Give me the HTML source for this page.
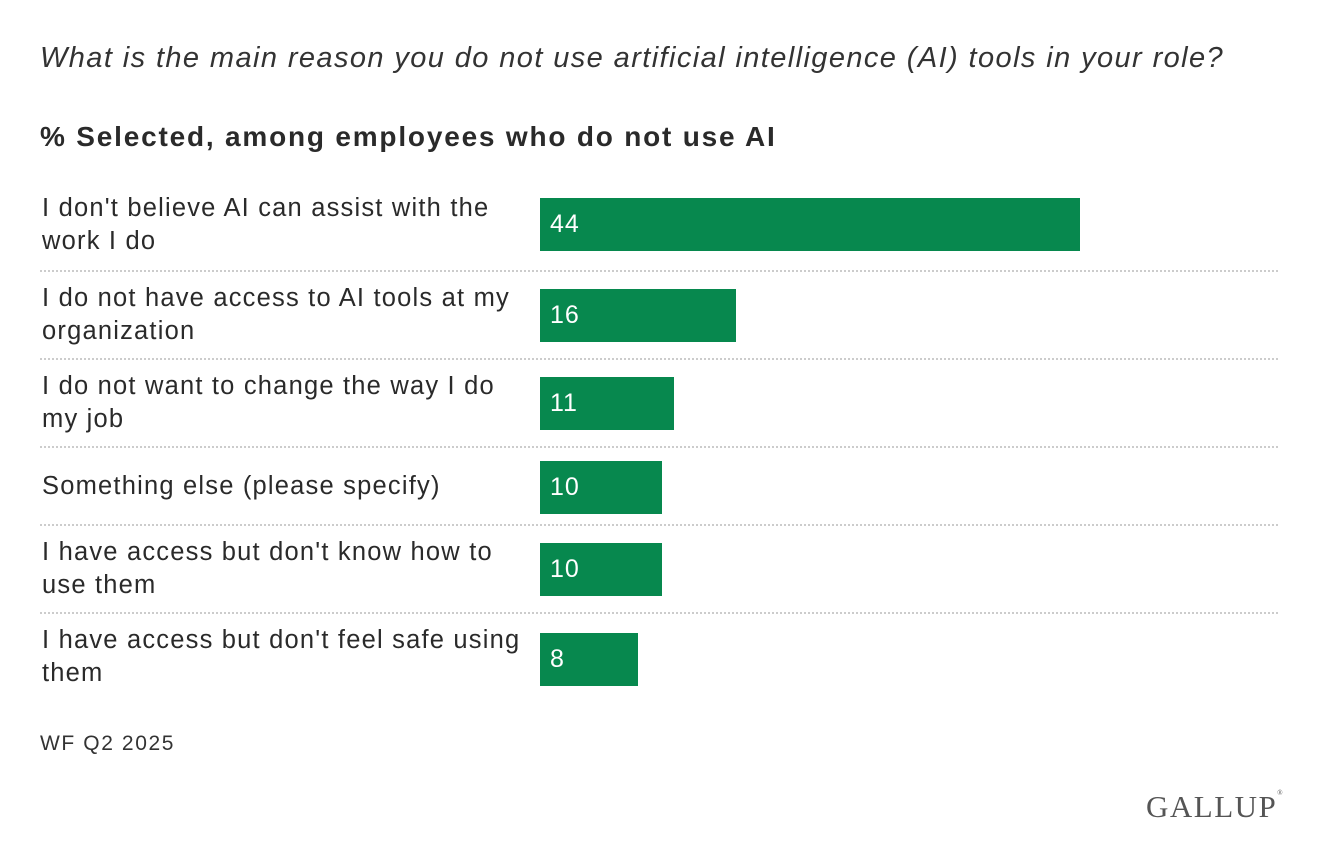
<!DOCTYPE html>
<html><head><style>
body{margin:0;width:1320px;height:864px;background:#fff;font-family:"Liberation Sans",sans-serif;color:#2a2a2a;position:relative;overflow:hidden}
.a{position:absolute}
.t{left:40px;top:42px;font-size:29px;letter-spacing:1.4px;font-style:italic;color:#333;white-space:nowrap}
.s{left:40px;top:121px;font-size:28px;letter-spacing:1.8px;font-weight:bold;white-space:nowrap}
.l{left:42px;font-size:25.5px;letter-spacing:1.2px;line-height:33px;width:495px}
.b{left:540px;height:53px;background:#07884e;color:#fff;font-size:25px;letter-spacing:1px;line-height:53px;padding-left:10px;box-sizing:border-box}
.d{left:40px;width:1238px;border-top:2px dotted #ccc}
</style></head><body>
<div class="a t">What is the main reason you do not use artificial intelligence (AI) tools in your role?</div>
<div class="a s">% Selected, among employees who do not use AI</div>
<div class="a l" style="top:192px">I don't believe AI can assist with the<br>work I do</div>
<div class="a b" style="top:198px;width:540px">44</div>
<div class="a d" style="top:270px"></div>
<div class="a l" style="top:282px">I do not have access to AI tools at my<br>organization</div>
<div class="a b" style="top:289px;width:196px">16</div>
<div class="a d" style="top:358px"></div>
<div class="a l" style="top:370px">I do not want to change the way I do<br>my job</div>
<div class="a b" style="top:377px;width:134px">11</div>
<div class="a d" style="top:446px"></div>
<div class="a l" style="top:470px">Something else (please specify)</div>
<div class="a b" style="top:461px;width:122px">10</div>
<div class="a d" style="top:524px"></div>
<div class="a l" style="top:536px">I have access but don't know how to<br>use them</div>
<div class="a b" style="top:543px;width:122px">10</div>
<div class="a d" style="top:612px"></div>
<div class="a l" style="top:624px">I have access but don't feel safe using<br>them</div>
<div class="a b" style="top:633px;width:98px">8</div>
<div class="a" style="left:40px;top:732px;font-size:21px;letter-spacing:1.6px;color:#333">WF Q2 2025</div>
<div class="a" style="left:1146px;top:789px;font-family:'Liberation Serif',serif;font-size:31px;color:#555;letter-spacing:1.5px">GALLUP<sup style="font-size:7px;vertical-align:top">®</sup></div>
</body></html>
